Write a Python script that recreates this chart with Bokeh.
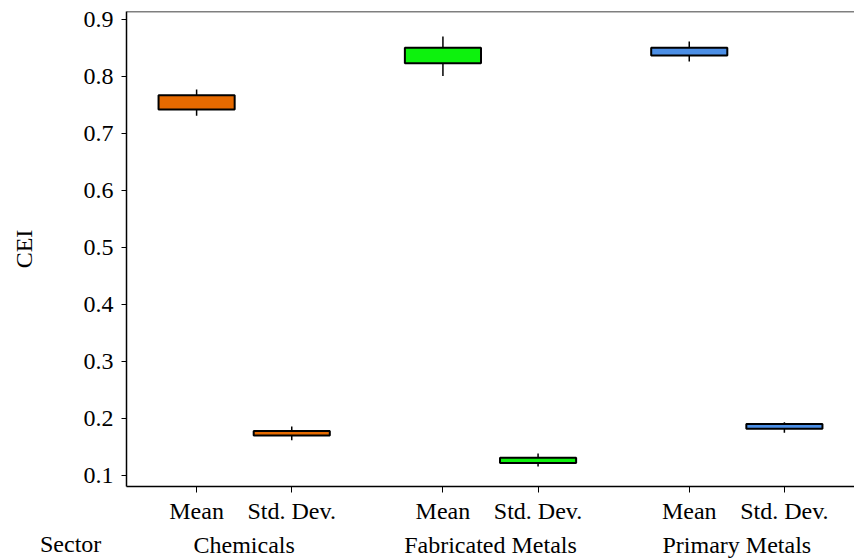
from bokeh.plotting import figure
from bokeh.models import FactorRange, Range1d, FixedTicker, Span, ColumnDataSource, Div
from bokeh.layouts import column
from bokeh.embed import file_html
from bokeh.resources import INLINE

sectors = ["Chemicals", "Fabricated Metals", "Primary Metals"]
stats = ["Mean", "Std. Dev."]
sector_colors = ["#e66a00", "#0df20d", "#4c8fe6"]
x_title = "Sector"

# values per (sector, stat) in order: Chem Mean, Chem Std, Fab Mean, Fab Std, Prim Mean, Prim Std
whisker_low = [0.731, 0.162, 0.801, 0.116, 0.8265, 0.175]
q1 = [0.742, 0.170, 0.823, 0.122, 0.837, 0.182]
median = [0.750, 0.1744, 0.842, 0.126, 0.840, 0.1858]
q3 = [0.767, 0.178, 0.8505, 0.131, 0.8505, 0.1905]
whisker_high = [0.777, 0.186, 0.870, 0.1385, 0.8615, 0.1933]

y_ticks = [0.1, 0.2, 0.3, 0.4, 0.5, 0.6, 0.7, 0.8, 0.9]

factors = [(s, st) for s in sectors for st in stats]
fills = [c for c in sector_colors for _ in stats]

src = ColumnDataSource(dict(x=factors, low=whisker_low, q1=q1, med=median,
                            q3=q3, high=whisker_high, fill=fills))

FONT = "Liberation Serif"

x_range = FactorRange(factors=factors, factor_padding=0.0, group_padding=0.589,
                      range_padding=0.066, range_padding_units="percent")

p = figure(x_range=x_range, y_range=Range1d(0.0807, 0.914), width=854, height=560,
           output_backend="svg", toolbar_location=None, tools="")
p.min_border_left = 126
p.min_border_right = 0
p.min_border_top = 11
p.min_border_bottom = 69
p.outline_line_color = None
p.background_fill_color = "white"
p.border_fill_color = "white"
p.xgrid.grid_line_color = None
p.ygrid.grid_line_color = None

p.segment(x0="x", y0="low", x1="x", y1="high", source=src, line_color="black", line_width=1.5)
p.vbar(x="x", bottom="q1", top="q3", width=0.8, source=src, fill_color="fill",
       line_color="black", line_width=2)
p.rect(x="x", y="med", width=0.8, height=0, source=src, fill_alpha=0,
       line_color="black", line_width=2)

p.add_layout(Span(location=0.914, dimension="width", line_color="black", line_width=1.5))

# y axis
p.yaxis.ticker = FixedTicker(ticks=y_ticks)
p.yaxis.axis_label = "CEI"
p.yaxis.axis_label_text_font = FONT
p.yaxis.axis_label_text_font_size = "24px"
p.yaxis.axis_label_text_font_style = "normal"
p.yaxis.axis_label_text_color = "black"
p.yaxis.axis_label_standoff = 44
p.yaxis.major_label_text_font = FONT
p.yaxis.major_label_text_font_size = "24px"
p.yaxis.major_label_text_color = "black"
p.yaxis.major_label_standoff = 8
p.yaxis.major_tick_out = 5
p.yaxis.major_tick_in = 0
p.yaxis.minor_tick_line_color = None
p.yaxis.axis_line_width = 1.5
p.yaxis.axis_line_color = "black"
p.yaxis.major_tick_line_color = "black"

# x axis
p.xaxis.major_label_text_font = FONT
p.xaxis.major_label_text_font_size = "24px"
p.xaxis.major_label_text_color = "black"
p.xaxis.group_text_font = FONT
p.xaxis.group_text_font_size = "24px"
p.xaxis.group_text_font_style = "normal"
p.xaxis.group_text_color = "black"
p.xaxis.separator_line_color = None
p.xaxis.major_tick_out = 6
p.xaxis.major_tick_in = 0
p.xaxis.major_label_standoff = 5
p.xaxis.axis_line_width = 1.5
p.xaxis.axis_line_color = "black"
p.xaxis.major_tick_line_color = "black"

sector_div = Div(
    text=f'<span style="font-family: \'Liberation Serif\', serif; font-size: 24px; color: black;">{x_title}</span>',
    styles={
        "position": "absolute", "left": "40px", "top": "530px",
        "font-family": "'Liberation Serif', serif", "font-size": "24px", "color": "black",
        "white-space": "nowrap", "line-height": "28px", "z-index": "10",
        "margin": "0", "padding": "0",
    })

layout = column(p, sector_div, spacing=0)

open("out.html", "w").write(file_html(layout, INLINE))
